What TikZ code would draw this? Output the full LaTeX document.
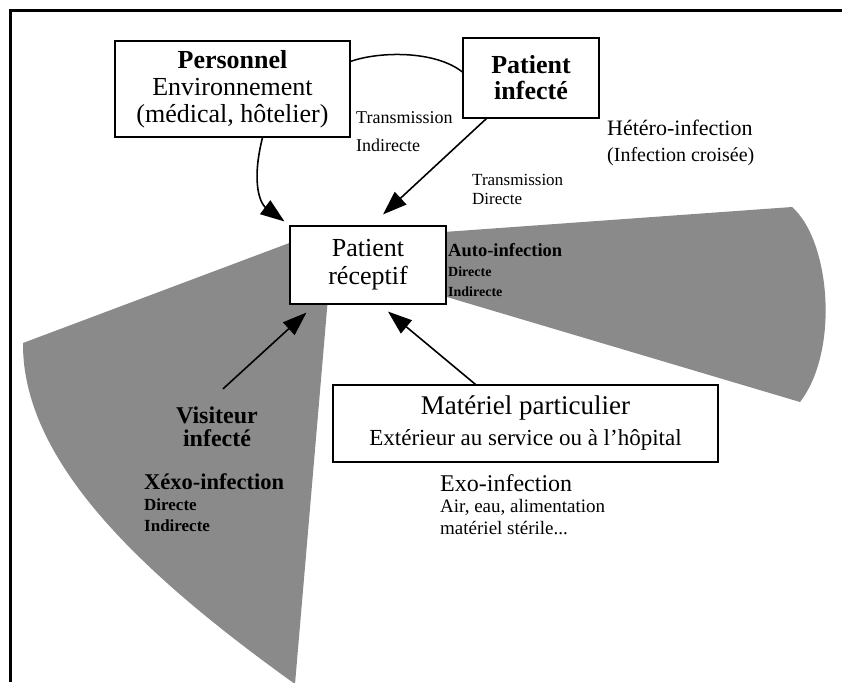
\documentclass[tikz,border=0pt]{standalone}
\usepackage{fontspec}
\setmainfont{Liberation Serif}
\usetikzlibrary{arrows.meta}

\definecolor{halftone}{gray}{0.54}
\newcommand\fsz[2]{\fontsize{#1}{#2}\selectfont}

\begin{document}
\begin{tikzpicture}[
    x=1pt, y=-1pt,
    box/.style={draw, line width=1.1pt, fill=white, align=center, inner sep=0pt},
    arr/.style={line width=1.6pt, -{Triangle[length=24pt,width=17pt]}},
    lbl/.style={anchor=base west, align=left, inner sep=0pt}
  ]
  \useasboundingbox (0,0) rectangle (842,682);

  % grey zones
  \fill[halftone] (430,233) -- (792,207)
    .. controls (830,240) and (840,350) .. (800,402) -- (430,292) -- cycle;
  \fill[halftone] (23,343) -- (300,239) -- (333,239) -- (295,684)
    .. controls (150,580) and (22,465) .. cycle;

  % frame
  \draw[line width=3pt] (842,10.5) -- (10.5,10.5) -- (10.5,682);

  \node[box, minimum width=235pt, minimum height=96pt, font={\fsz{26}{27}}] (pers) at (232.5,89)
    {{\bfseries Personnel}\\Environnement\\(médical, hôtelier)};
  \node[box, minimum width=136pt, minimum height=80pt, font={\fsz{26}{26}\bfseries}] (infe) at (531,78)
    {Patient\\infecté};
  \node[box, minimum width=156pt, minimum height=78pt, font={\fsz{26}{28}}] (recv) at (368,265)
    {Patient\\réceptif};
  \node[box, minimum width=385pt, minimum height=77pt, font={\fsz{23}{31}}] (mat) at (525.5,423.5)
    {{\fsz{27}{31}Matériel particulier}\\Extérieur au service ou à l'hôpital};
  \node[align=center, inner sep=0pt, font={\fsz{24}{23}\bfseries}] (vis) at (217,427)
    {Visiteur\\infecté};

  % labels: base = last line
  \node[lbl, font={\fsz{18}{28}}] (trind) at (356,151) {Transmission\\Indirecte};
  \node[lbl, font={\fsz{20}{26}}] (hetero) at (607,161.5)
    {{\fsz{22}{26}Hétéro-infection}\\(Infection croisée)};
  \node[lbl, font={\fsz{17}{19}}] (trdir) at (472,204) {Transmission\\Directe};
  \node[lbl, font={\fsz{14}{20}\bfseries}] (auto) at (448,296)
    {{\fsz{18.5}{20}Auto-infection}\\Directe\\Indirecte};
  \node[lbl, font={\fsz{17}{21}\bfseries}] (xexo) at (144,531)
    {{\fsz{22.5}{21}Xéxo-infection}\\Directe\\Indirecte};
  \node[lbl, font={\fsz{19}{21.5}}] (exo) at (440,534)
    {{\fsz{24}{22}Exo-infection}\\Air, eau, alimentation\\matériel stérile...};

  \draw[line width=1.5pt] ([yshift=-21pt]pers.north east)
    .. controls +(28,-10) and +(-28,-22) .. ([yshift=6pt]infe.west);
  \draw[arr] ([xshift=30pt]pers.south)
    .. controls +(-12,48) and +(-23,-17) .. ([shift={(-5,-4)}]recv.north west);
  \draw[arr] ([xshift=24pt]infe.south west) -- ([shift={(15,-11)}]recv.north);
  \draw[arr] ([shift={(6,-18)}]vis.north) -- ([shift={(17,8)}]recv.south west);
  \draw[arr] ([xshift=-50pt]mat.north) -- ([shift={(20,7)}]recv.south);
\end{tikzpicture}
\end{document}
